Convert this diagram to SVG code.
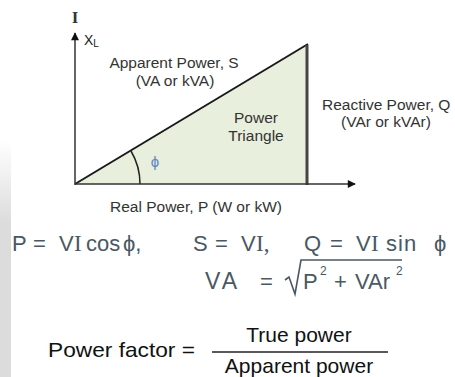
<svg xmlns="http://www.w3.org/2000/svg" width="455" height="377" viewBox="0 0 455 377">
<defs>
<style>
.lbl{font-family:"Liberation Sans",Arial,sans-serif;font-size:15.5px;fill:#333}
.eq{font-family:"Liberation Sans",Arial,sans-serif;font-size:22px;fill:#4a5864}
.eqs{font-family:"Liberation Serif","Times New Roman",serif;font-size:23px;fill:#4a5864}
.pf{font-family:"Liberation Sans",Arial,sans-serif;font-size:21px;fill:#111}
.sup{font-family:"Liberation Sans",Arial,sans-serif;font-size:12px;fill:#4a5864}
.axis{stroke:#333;stroke-width:1.5;fill:none}
</style>
<marker id="arr" viewBox="0 0 10 10" refX="9" refY="5" markerWidth="9" markerHeight="8" markerUnits="userSpaceOnUse" orient="auto">
<path d="M0,0 L10,5 L0,10 Z" fill="#111"/>
</marker>
<linearGradient id="band" x1="0" y1="0" x2="0" y2="1">
<stop offset="0" stop-color="#dcdcdc" stop-opacity="0"/>
<stop offset="0.35" stop-color="#dcdcdc" stop-opacity="1"/>
<stop offset="1" stop-color="#dcdcdc" stop-opacity="1"/>
</linearGradient>
</defs>
<rect width="455" height="377" fill="#fff"/>
<rect x="0" y="140" width="11" height="237" fill="url(#band)"/>

<g id="triangle">
<polygon points="75,184 307,184 307,45" fill="#e9efdd"/>
<line x1="75" y1="184" x2="308" y2="44" stroke="#1a1a1a" stroke-width="2"/>
<line x1="307" y1="45" x2="307" y2="185" stroke="#444" stroke-width="3"/>
<path d="M140,184 A65,65 0 0 0 131,151" fill="none" stroke="#222" stroke-width="1.5"/>
<text x="155" y="167" style="font-family:'Liberation Sans',Arial,sans-serif;font-size:15px;fill:#5a86c0" text-anchor="middle">ϕ</text>
<text class="lbl" x="256" y="123" text-anchor="middle">Power</text>
<text class="lbl" x="256" y="141" text-anchor="middle">Triangle</text>
</g>

<g id="connectors">
<line class="axis" x1="75" y1="185" x2="75" y2="33" marker-end="url(#arr)"/>
<line class="axis" x1="75" y1="184" x2="355" y2="184" marker-end="url(#arr)"/>
</g>

<g id="axis-labels">
<text x="75" y="23" style="font-family:'Liberation Serif',serif;font-size:17px;font-weight:bold;fill:#333" text-anchor="middle">I</text>
<text x="84" y="45" style="font-family:'Liberation Sans',Arial,sans-serif;font-size:14px;fill:#222">X<tspan font-size="10" dy="2">L</tspan></text>
</g>

<g id="apparent">
<text class="lbl" x="174" y="68" text-anchor="middle">Apparent Power, S</text>
<text class="lbl" x="175" y="86" text-anchor="middle">(VA or kVA)</text>
</g>
<g id="reactive">
<text class="lbl" x="322" y="110">Reactive Power, Q</text>
<text class="lbl" x="386" y="127" text-anchor="middle">(VAr or kVAr)</text>
</g>
<g id="real">
<text class="lbl" x="196" y="212" text-anchor="middle">Real Power, P (W or kW)</text>
</g>

<g id="formula1">
<text class="eq" x="12" y="251">P</text>
<text class="eq" x="33" y="251">=</text>
<text class="eq" x="59" y="251">V</text>
<text class="eqs" x="74" y="251">I</text>
<text class="eq" x="86" y="251">cos</text>
<text class="eq" x="123" y="251">ϕ,</text>
<text class="eq" x="193" y="251">S</text>
<text class="eq" x="215" y="251">=</text>
<text class="eq" x="241" y="251">V</text>
<text class="eqs" x="256" y="251">I,</text>
<text class="eq" x="304" y="251">Q</text>
<text class="eq" x="330" y="251">=</text>
<text class="eq" x="356" y="251">V</text>
<text class="eqs" x="371" y="251">I</text>
<text class="eq" x="386" y="251" letter-spacing="1">sin</text>
<text class="eq" x="434" y="251">ϕ</text>
</g>

<g id="formula2">
<text class="eq" x="205" y="289" letter-spacing="3" style="font-size:23px">VA</text>
<text class="eq" x="260" y="289">=</text>
<path d="M285,280 L289,277 L295,294 L301,260 L402,260" fill="none" stroke="#4a5864" stroke-width="1.6"/>
<text class="eq" x="303" y="289">P</text>
<text class="sup" x="320" y="275">2</text>
<text class="eq" x="334" y="289">+</text>
<text class="eq" x="355" y="289">VAr</text>
<text class="sup" x="396" y="275">2</text>
</g>

<g id="power-factor">
<text class="pf" x="48" y="357" textLength="147" lengthAdjust="spacingAndGlyphs">Power factor =</text>
<text class="pf" x="299" y="342" text-anchor="middle">True power</text>
<line x1="212" y1="352" x2="388" y2="352" stroke="#222" stroke-width="1.5"/>
<text class="pf" x="299" y="373" text-anchor="middle">Apparent power</text>
</g>
</svg>
